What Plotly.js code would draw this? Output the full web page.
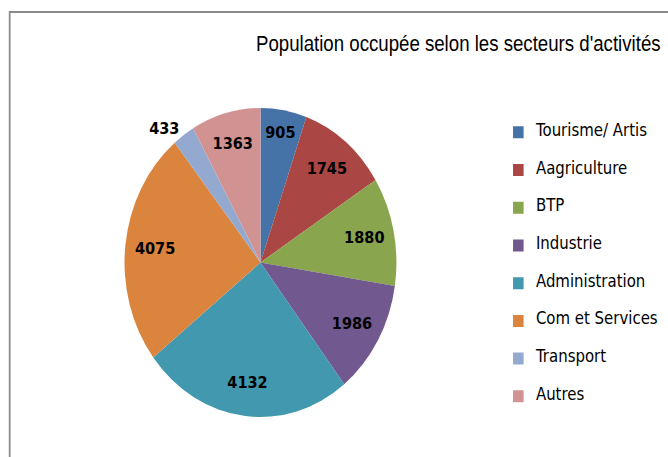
<!DOCTYPE html>
<html>
<head>
<meta charset="utf-8">
<script src="https://cdn.plot.ly/plotly-3.0.1.min.js"></script>
<style>
  html, body { margin: 0; padding: 0; background: #fff; overflow: hidden; }
  #wrap { width: 668px; height: 457px; overflow: hidden; position: relative; }
  #chart { width: 759px; height: 457px; transform: scaleX(0.88); transform-origin: 0 0; position: absolute; left: 0; top: 0; }
</style>
</head>
<body>
<div id="wrap"><div id="chart"></div></div>
<script>
const categories = ["Tourisme/ Artis", "Aagriculture", "BTP", "Industrie", "Administration", "Com et Services", "Transport", "Autres"];
const values = [905, 1745, 1880, 1986, 4132, 4075, 433, 1363];
const colors = ["#4572A7", "#AA4643", "#89A54E", "#71588F", "#4198AF", "#DB843D", "#93A9CF", "#D19392"];
const titleText = "Population occupée selon les secteurs d'activités";

const W = 759, H = 457;
const pieDomain = { x: [141.5 / W, 450.5 / W], y: [40 / H, 349 / H] };
const legendLabels = categories.map(c =>
  "&nbsp;<br><span style='font-size:17px'>" + c + "</span><br>&nbsp;");
const textPositions = values.map(v => v < 600 ? "outside" : "inside");
const labelFont = { family: "DejaVu Sans, sans-serif", size: 16.5, color: "#000", weight: "bold" };

// coloured slices + legend
const slices = {
  type: "pie",
  labels: legendLabels,
  values: values,
  sort: false,
  direction: "clockwise",
  rotation: 0,
  marker: { colors: colors, line: { width: 0 } },
  textinfo: "none",
  domain: pieDomain,
  hoverinfo: "value+percent"
};

// transparent ring that carries the value labels further out in each slice
const valueLabels = {
  type: "pie",
  labels: categories,
  values: values,
  sort: false,
  direction: "clockwise",
  rotation: 0,
  hole: 0.56,
  showlegend: false,
  marker: { colors: values.map(() => "rgba(0,0,0,0)"), line: { width: 0 } },
  textinfo: "value",
  textposition: textPositions,
  insidetextorientation: "horizontal",
  textfont: labelFont,
  insidetextfont: labelFont,
  outsidetextfont: labelFont,
  domain: pieDomain,
  hoverinfo: "skip"
};

const layout = {
  width: W, height: H,
  margin: { l: 0, r: 0, t: 0, b: 0 },
  paper_bgcolor: "#fff",
  showlegend: true,
  title: {
    text: titleText,
    x: 256 / 0.88 / W, xanchor: "left", xref: "paper",
    y: 1 - 44 / H, yanchor: "middle", yref: "container",
    font: { family: "Liberation Sans, Arial, sans-serif", size: 21.2, color: "#000" }
  },
  legend: {
    x: 569 / W, xanchor: "left",
    y: 1 - 108.5 / H, yanchor: "top",
    font: { family: "DejaVu Sans, sans-serif", size: 8.9, color: "#000" },
    bgcolor: "rgba(0,0,0,0)",
    traceorder: "normal"
  },
  shapes: [{
    type: "rect", xref: "paper", yref: "paper",
    x0: 11 / W, x1: 1.2, y0: -0.2, y1: 1 - 12 / H,
    line: { color: "#8a8a8a", width: 2 }, fillcolor: "rgba(0,0,0,0)", layer: "below"
  }]
};

Plotly.newPlot("chart", [slices, valueLabels], layout, { displayModeBar: false, staticPlot: true });
</script>
</body>
</html>
